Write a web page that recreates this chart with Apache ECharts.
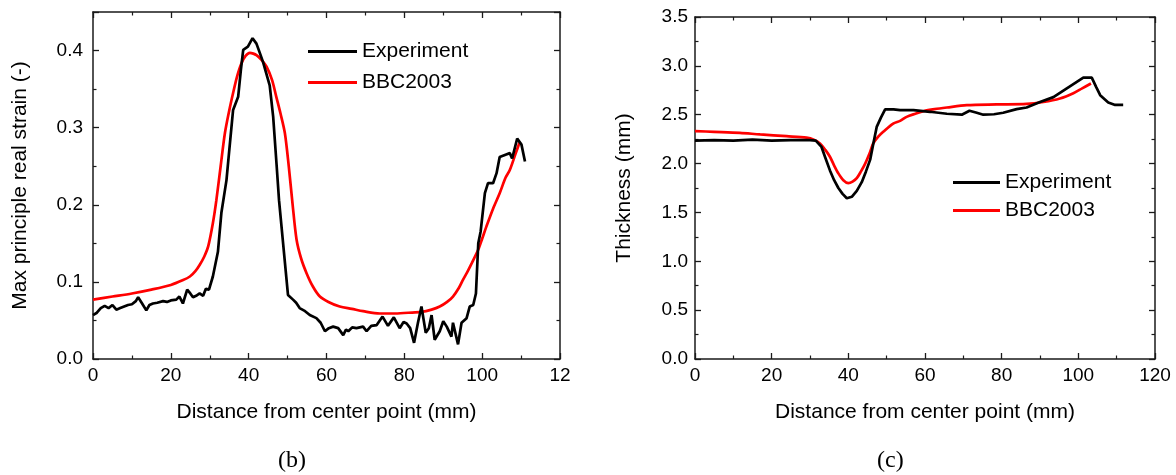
<!DOCTYPE html>
<html>
<head>
<meta charset="utf-8">
<script src="https://cdn.jsdelivr.net/npm/echarts@6/dist/echarts.min.js"></script>
<style>
html,body{margin:0;padding:0;background:#fff;}
#chart{width:1176px;height:475px;}
</style>
</head>
<body>
<div id="chart"></div>
<script>
// Panel (b): max principal strain
var expB_x = [0,1,2,3,4,5,6,7,8,9,10,11,11.6,12.5,13.7,14.5,15.4,16.5,18,19,20,21.4,22.2,23.1,24.2,25,25.7,26.5,27.4,28.3,29,29.8,30.8,32.1,33,34.3,35,36,37.3,38,38.6,39.8,41,42,43,43.7,45.4,46.3,47.2,47.8,49,50.1,51.4,52.2,53.1,54.5,55.7,57.4,58.5,59.6,60.6,61.7,63,64.3,65,65.6,66.6,67.7,69.4,70.3,71.5,72.9,74.4,75.8,77.3,78.8,79.8,80.6,81.5,82.5,83.5,84.4,85.5,86.3,87,87.8,89.1,90,90.9,92.1,92.5,93.8,94.7,96,96.8,97.7,98.4,99,99.6,100.7,101.5,102.8,103.7,104.5,106,107.1,107.7,109,110.1,111];
var expB_y = [0.057,0.060,0.066,0.069,0.066,0.070,0.064,0.066,0.068,0.070,0.071,0.075,0.080,0.073,0.063,0.070,0.072,0.073,0.075,0.074,0.076,0.077,0.081,0.072,0.090,0.085,0.080,0.082,0.085,0.082,0.091,0.090,0.107,0.139,0.190,0.232,0.270,0.323,0.340,0.375,0.401,0.405,0.416,0.409,0.395,0.385,0.355,0.314,0.250,0.206,0.142,0.083,0.077,0.073,0.066,0.062,0.057,0.053,0.047,0.036,0.040,0.042,0.040,0.031,0.038,0.036,0.041,0.040,0.042,0.036,0.043,0.044,0.055,0.043,0.054,0.040,0.048,0.046,0.040,0.021,0.047,0.068,0.034,0.040,0.057,0.025,0.036,0.049,0.042,0.029,0.047,0.019,0.047,0.053,0.068,0.070,0.085,0.150,0.165,0.215,0.228,0.228,0.241,0.262,0.265,0.267,0.260,0.286,0.278,0.256];
var bbcB_x = [0,5,10,15,20,23,24.9,26.3,27.4,28.6,29.6,30.8,31.7,32.8,33.9,35,36,37,38.1,39.2,40.3,41.2,42,43.3,44.6,46,47.1,48.2,49.3,50.3,51.3,52.3,53.5,54.9,56.5,58.3,60.5,63.4,66.5,69.4,73.7,77.1,81,84.4,87,89.1,91,92.5,94,95.1,96.3,97.3,99,100,101.1,102.8,104.5,106,107.1,108.5,109.7];
var bbcB_y = [0.077,0.081,0.085,0.090,0.096,0.102,0.107,0.114,0.122,0.133,0.146,0.176,0.206,0.250,0.293,0.322,0.345,0.366,0.383,0.393,0.397,0.396,0.394,0.388,0.379,0.362,0.340,0.318,0.293,0.250,0.200,0.155,0.130,0.111,0.094,0.081,0.074,0.068,0.065,0.062,0.059,0.059,0.060,0.061,0.064,0.068,0.074,0.081,0.092,0.103,0.114,0.124,0.142,0.156,0.172,0.195,0.215,0.235,0.245,0.265,0.282];

// Panel (c): thickness
var expC_x = [0,5,10,15,20,25,30,31.5,33,34,35.2,36.3,37.4,38.5,39.6,40.9,42.2,43.5,44.6,45.7,46.5,47.4,48.5,49.6,51.8,53.5,57,61.3,65.7,69.6,71.6,73.5,75.2,78,80.4,83.9,86.5,90,93.5,97,101.3,103.5,104.7,105.7,107.8,109.6,111.7];
var expC_y = [2.235,2.24,2.235,2.245,2.235,2.24,2.24,2.235,2.17,2.06,1.93,1.83,1.75,1.69,1.645,1.66,1.72,1.81,1.92,2.04,2.2,2.375,2.47,2.555,2.555,2.547,2.547,2.53,2.51,2.50,2.54,2.52,2.50,2.505,2.52,2.557,2.574,2.63,2.68,2.77,2.88,2.88,2.78,2.70,2.625,2.60,2.60];
var bbcC_x = [0,5,11.7,17,23.9,29.1,31,32.6,34,35.2,36.3,37.4,38.7,40,41.1,42.2,43.3,44.4,45.5,46.5,47.8,49.1,51.7,53.5,55.2,57.5,59.6,62.5,65.7,70.9,78.7,86.5,90.9,95.2,98.7,101,103.3];
var bbcC_y = [2.332,2.325,2.315,2.298,2.28,2.265,2.245,2.206,2.14,2.07,1.98,1.90,1.83,1.80,1.815,1.85,1.92,2.00,2.10,2.206,2.275,2.325,2.41,2.437,2.478,2.51,2.536,2.557,2.574,2.598,2.605,2.61,2.63,2.666,2.72,2.77,2.82];

var seriesNamesB = ['Experiment', 'BBC2003'];
var seriesNamesC = ['Experiment ', 'BBC2003 '];
var xName = 'Distance from center point (mm)';
var yNameB = 'Max principle real strain (-)';
var yNameC = 'Thickness (mm)';

function zip(xs, ys){ return xs.map(function(x,i){ return [x, ys[i]]; }); }

var FONT = 'Liberation Sans, Arial, sans-serif';
var axisColor = '#1a1a1a';
var LW = 2.7;

function makeX(gridIndex, opts){
  var base = {
    type: 'value', gridIndex: gridIndex, min: 0, max: 120, interval: 20,
    axisLine: {show: true, onZero: false, lineStyle: {color: axisColor, width: 1.5}},
    axisTick: {show: true, inside: true, length: 6, lineStyle: {color: axisColor, width: 1.3}},
    minorTick: {show: true, splitNumber: 2, length: 3.5, lineStyle: {color: axisColor, width: 1.2}},
    splitLine: {show: false},
    axisLabel: {show: true, color: '#000', fontSize: 19, fontFamily: FONT, margin: 7}
  };
  return Object.assign(base, opts);
}
function makeY(gridIndex, opts){
  var base = {
    type: 'value', gridIndex: gridIndex,
    axisLine: {show: true, onZero: false, lineStyle: {color: axisColor, width: 1.5}},
    axisTick: {show: true, inside: true, length: 6, lineStyle: {color: axisColor, width: 1.3}},
    minorTick: {show: true, splitNumber: 2, length: 3.5, lineStyle: {color: axisColor, width: 1.2}},
    splitLine: {show: false},
    axisLabel: {show: true, color: '#000', fontSize: 19, fontFamily: FONT}
  };
  return Object.assign(base, opts);
}

var chart = echarts.init(document.getElementById('chart'), null, {renderer: 'canvas'});
var option = {
  backgroundColor: '#fff',
  animation: false,
  grid: [
    {left: 93, top: 12, width: 467, height: 347},
    {left: 695, top: 17, width: 460, height: 342}
  ],
  xAxis: [
    makeX(0, {position: 'bottom', name: xName, nameLocation: 'middle', nameGap: 43,
      nameTextStyle: {fontSize: 21, fontFamily: FONT, color: '#000'},
      axisLabel: {show: true, color: '#000', fontSize: 19, fontFamily: FONT, margin: 7,
        formatter: function(v){ return v === 120 ? '12' : String(v); }}}),
    makeX(0, {position: 'top', axisLabel: {show: false}}),
    makeX(1, {position: 'bottom', name: xName, nameLocation: 'middle', nameGap: 43,
      nameTextStyle: {fontSize: 21, fontFamily: FONT, color: '#000'}}),
    makeX(1, {position: 'top', axisLabel: {show: false}})
  ],
  yAxis: [
    makeY(0, {position: 'left', min: 0, max: 0.45, interval: 0.1,
      name: yNameB, nameLocation: 'middle', nameGap: 62,
      nameTextStyle: {fontSize: 21, fontFamily: FONT, color: '#000'},
      axisLabel: {show: true, color: '#000', fontSize: 19, fontFamily: FONT, margin: 10, showMaxLabel: false,
        formatter: function(v){ return v.toFixed(1); }}}),
    makeY(0, {position: 'right', min: 0, max: 0.45, interval: 0.1, axisLabel: {show: false}}),
    makeY(1, {position: 'left', min: 0, max: 3.5, interval: 0.5,
      name: yNameC, nameLocation: 'middle', nameGap: 60,
      nameTextStyle: {fontSize: 21, fontFamily: FONT, color: '#000'},
      axisLabel: {show: true, color: '#000', fontSize: 19, fontFamily: FONT, margin: 7,
        formatter: function(v){ return v.toFixed(1); }}}),
    makeY(1, {position: 'right', min: 0, max: 3.5, interval: 0.5, axisLabel: {show: false}})
  ],
  legend: [
    {data: seriesNamesB, orient: 'vertical', left: 303, top: 36, itemWidth: 49, itemHeight: 3, itemGap: 10,
      icon: 'rect', textStyle: {fontSize: 21, fontFamily: FONT, color: '#000'}},
    {data: seriesNamesC, orient: 'vertical', left: 948, top: 167, itemWidth: 47, itemHeight: 3, itemGap: 7,
      icon: 'rect', textStyle: {fontSize: 21, fontFamily: FONT, color: '#000'}}
  ],
  graphic: [
    {type: 'text', left: 278, top: 449, style: {text: '(b)', font: '24px "Liberation Serif", "Times New Roman", serif', fill: '#000'}},
    {type: 'text', left: 877, top: 449, style: {text: '(c)', font: '24px "Liberation Serif", "Times New Roman", serif', fill: '#000'}}
  ],
  series: [
    {name: seriesNamesB[0], type: 'line', xAxisIndex: 0, yAxisIndex: 0, data: zip(expB_x, expB_y),
      symbol: 'none', lineStyle: {color: '#000', width: LW}, itemStyle: {color: '#000'}, z: 3},
    {name: seriesNamesB[1], type: 'line', xAxisIndex: 0, yAxisIndex: 0, data: zip(bbcB_x, bbcB_y), smooth: 0.3,
      symbol: 'none', lineStyle: {color: '#ff0000', width: LW}, itemStyle: {color: '#ff0000'}, z: 2},
    {name: seriesNamesC[0], type: 'line', xAxisIndex: 2, yAxisIndex: 2, data: zip(expC_x, expC_y),
      symbol: 'none', lineStyle: {color: '#000', width: LW}, itemStyle: {color: '#000'}, z: 3},
    {name: seriesNamesC[1], type: 'line', xAxisIndex: 2, yAxisIndex: 2, data: zip(bbcC_x, bbcC_y), smooth: 0.3,
      symbol: 'none', lineStyle: {color: '#ff0000', width: LW}, itemStyle: {color: '#ff0000'}, z: 2}
  ]
};
chart.setOption(option);
</script>
</body>
</html>
